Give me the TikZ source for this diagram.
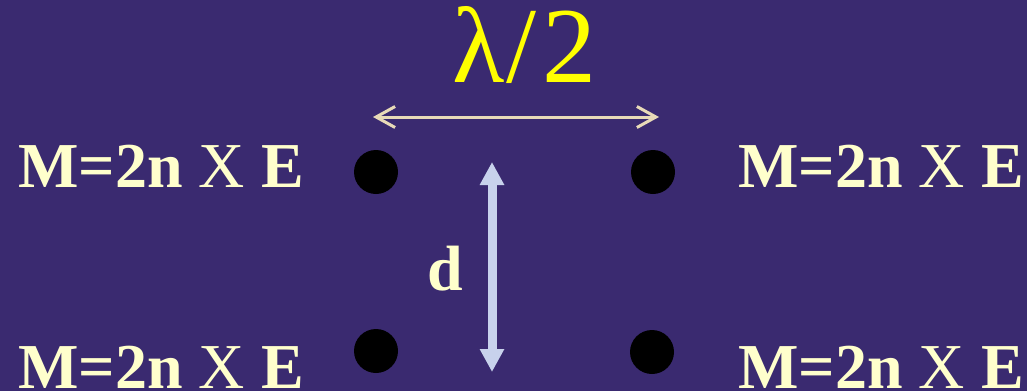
\documentclass[tikz,border=0pt]{standalone}
\usepackage{fontspec}
\setmainfont{Liberation Serif}
\usepackage{tikz}
\usetikzlibrary{arrows.meta, positioning}
\definecolor{slidebg}{RGB}{58,42,112}
\definecolor{paleyellow}{RGB}{255,255,204}
\definecolor{brightyellow}{RGB}{255,255,0}
\definecolor{beigeline}{RGB}{232,218,184}
\definecolor{lavender}{RGB}{200,210,236}

\begin{document}
\begin{tikzpicture}[x=0.5pt, y=-0.5pt,
    lbl/.style={anchor=base west, inner sep=0pt, text=paleyellow, font=\fontsize{32}{36}\selectfont\bfseries},
    charge/.style={circle, fill=black, inner sep=0pt, minimum size=22pt},
]
    \fill[slidebg] (0,0) rectangle (1027,391);
    \useasboundingbox (0,0) rectangle (1027,391);

    \node[charge] (c1) at (376,172) {};
    \node[charge] (c2) at (653,172) {};
    \node[charge] (c3) at (376,351) {};
    \node[charge] (c4) at (652,352) {};

    \node[lbl] (m1) at (18,187) {M=2n {\mdseries X} E};
    \node[lbl] (m2) at (738,187) {M=2n {\mdseries X} E};
    \node[lbl] (m3) at (18,388) {M=2n {\mdseries X} E};
    \node[lbl] (m4) at (738,388) {M=2n {\mdseries X} E};

    \node[anchor=base west, inner sep=0pt, text=brightyellow, font=\fontsize{54}{58}\selectfont] (lam) at (452,82) {λ\kern1pt/\kern3pt2};
    \node[lbl] (dist) at (427,290) {d};

    \coordinate (hl) at (373,117);
    \coordinate (hr) at (659,117);
    \coordinate (vt) at (492,162);
    \coordinate (vb) at (492,372);

    \draw[beigeline, line width=1.5pt, line cap=round, {Straight Barb[length=9.5pt,width=10.5pt]}-{Straight Barb[length=9.5pt,width=10.5pt]}] (hl) -- (hr);
    \draw[lavender, line width=4.5pt, {Triangle[length=11.5pt,width=11.5pt]}-{Triangle[length=11.5pt,width=11.5pt]}] (vt) -- (vb);
\end{tikzpicture}
\end{document}
